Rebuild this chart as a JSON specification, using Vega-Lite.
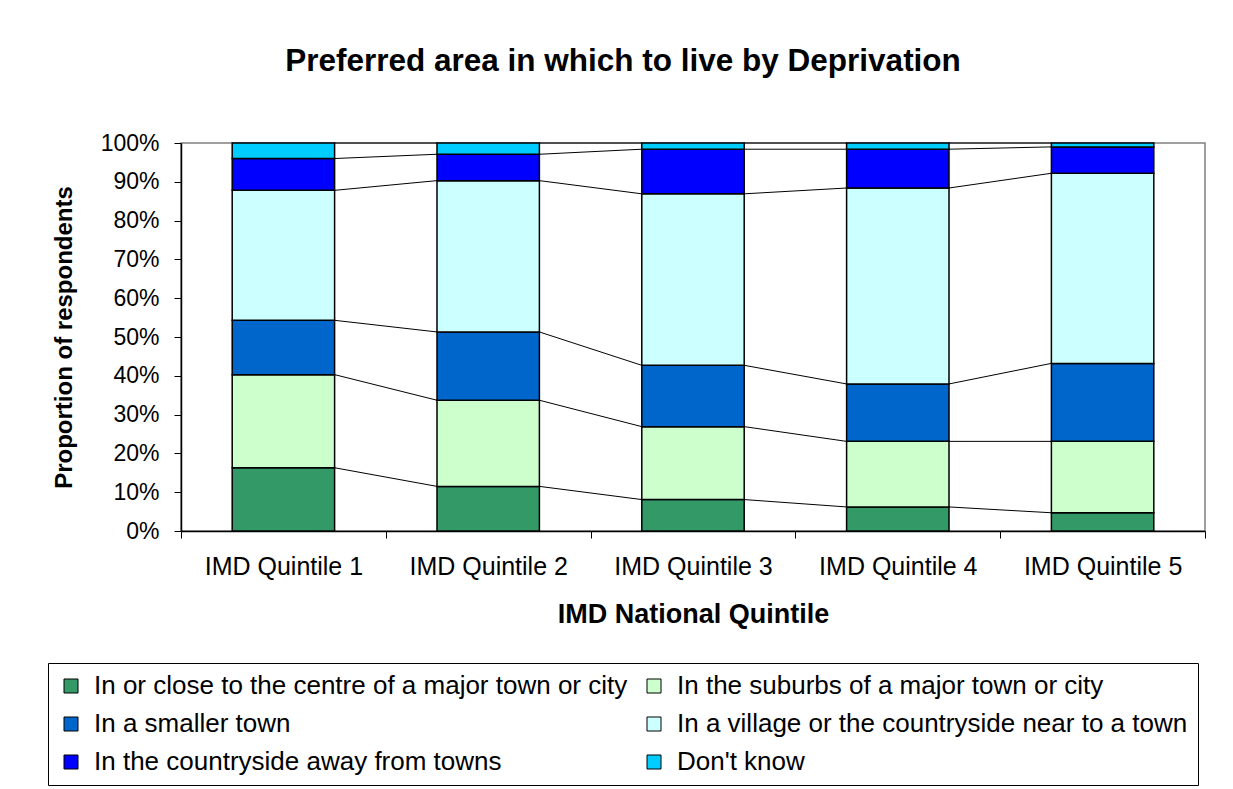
{
  "$schema": "https://vega.github.io/schema/vega-lite/v6.json",
  "width": 1024,
  "height": 388,
  "autosize": {"type": "none"},
  "padding": {"left": 181, "top": 143, "right": 28, "bottom": 258},
  "background": "white",
  "config": {
    "font": "Liberation Sans",
    "view": {"stroke": "#808080", "strokeWidth": 1.5}
  },
  "title": {
    "text": "Preferred area in which to live by Deprivation",
    "fontSize": 31.5,
    "fontWeight": "bold",
    "color": "black",
    "anchor": "middle",
    "frame": "group",
    "dx": -70,
    "offset": 30,
    "baseline": "alphabetic"
  },
  "data": {
    "values": [
      {"quintile": "IMD Quintile 1", "area": "In or close to the centre of a major town or city", "k": 1, "pct": 16.3},
      {"quintile": "IMD Quintile 1", "area": "In the suburbs of a major town or city", "k": 2, "pct": 24.0},
      {"quintile": "IMD Quintile 1", "area": "In a smaller town", "k": 3, "pct": 14.0},
      {"quintile": "IMD Quintile 1", "area": "In a village or the countryside near to a town", "k": 4, "pct": 33.5},
      {"quintile": "IMD Quintile 1", "area": "In the countryside away from towns", "k": 5, "pct": 8.2},
      {"quintile": "IMD Quintile 1", "area": "Don't know", "k": 6, "pct": 4.0},
      {"quintile": "IMD Quintile 2", "area": "In or close to the centre of a major town or city", "k": 1, "pct": 11.5},
      {"quintile": "IMD Quintile 2", "area": "In the suburbs of a major town or city", "k": 2, "pct": 22.2},
      {"quintile": "IMD Quintile 2", "area": "In a smaller town", "k": 3, "pct": 17.6},
      {"quintile": "IMD Quintile 2", "area": "In a village or the countryside near to a town", "k": 4, "pct": 39.0},
      {"quintile": "IMD Quintile 2", "area": "In the countryside away from towns", "k": 5, "pct": 6.8},
      {"quintile": "IMD Quintile 2", "area": "Don't know", "k": 6, "pct": 2.9},
      {"quintile": "IMD Quintile 3", "area": "In or close to the centre of a major town or city", "k": 1, "pct": 8.1},
      {"quintile": "IMD Quintile 3", "area": "In the suburbs of a major town or city", "k": 2, "pct": 18.8},
      {"quintile": "IMD Quintile 3", "area": "In a smaller town", "k": 3, "pct": 15.8},
      {"quintile": "IMD Quintile 3", "area": "In a village or the countryside near to a town", "k": 4, "pct": 44.2},
      {"quintile": "IMD Quintile 3", "area": "In the countryside away from towns", "k": 5, "pct": 11.5},
      {"quintile": "IMD Quintile 3", "area": "Don't know", "k": 6, "pct": 1.6},
      {"quintile": "IMD Quintile 4", "area": "In or close to the centre of a major town or city", "k": 1, "pct": 6.2},
      {"quintile": "IMD Quintile 4", "area": "In the suburbs of a major town or city", "k": 2, "pct": 16.9},
      {"quintile": "IMD Quintile 4", "area": "In a smaller town", "k": 3, "pct": 14.8},
      {"quintile": "IMD Quintile 4", "area": "In a village or the countryside near to a town", "k": 4, "pct": 50.5},
      {"quintile": "IMD Quintile 4", "area": "In the countryside away from towns", "k": 5, "pct": 10.0},
      {"quintile": "IMD Quintile 4", "area": "Don't know", "k": 6, "pct": 1.6},
      {"quintile": "IMD Quintile 5", "area": "In or close to the centre of a major town or city", "k": 1, "pct": 4.7},
      {"quintile": "IMD Quintile 5", "area": "In the suburbs of a major town or city", "k": 2, "pct": 18.4},
      {"quintile": "IMD Quintile 5", "area": "In a smaller town", "k": 3, "pct": 20.1},
      {"quintile": "IMD Quintile 5", "area": "In a village or the countryside near to a town", "k": 4, "pct": 49.0},
      {"quintile": "IMD Quintile 5", "area": "In the countryside away from towns", "k": 5, "pct": 6.8},
      {"quintile": "IMD Quintile 5", "area": "Don't know", "k": 6, "pct": 1.0}
    ]
  },
  "layer": [
    {
      "mark": {"type": "bar", "stroke": "black", "strokeWidth": 1.5, "width": {"band": 0.5}},
      "encoding": {
        "x": {
          "field": "quintile",
          "type": "nominal",
          "scale": {"paddingInner": 0, "paddingOuter": 0},
          "axis": {
            "title": "IMD National Quintile",
            "titleFontSize": 27,
            "titleFontWeight": "bold",
            "titleColor": "black",
            "titlePadding": 22,
            "labelAngle": 0,
            "labelFontSize": 25,
            "labelColor": "black",
            "labelPadding": 16,
            "tickBand": "extent",
            "tickSize": 7,
            "tickColor": "black",
            "domainColor": "black",
            "domainWidth": 1.5
          }
        },
        "y": {
          "field": "pct",
          "type": "quantitative",
          "stack": "zero",
          "scale": {"domain": [0, 100], "nice": false},
          "axis": {
            "title": "Proportion of respondents",
            "titleFontSize": 24,
            "titleFontWeight": "bold",
            "titleColor": "black",
            "titlePadding": 24,
            "values": [0, 10, 20, 30, 40, 50, 60, 70, 80, 90, 100],
            "tickCount": 11,
            "labelExpr": "datum.value + '%'",
            "labelOverlap": false,
            "labelFontSize": 23,
            "labelColor": "black",
            "labelPadding": 15,
            "tickSize": 7,
            "tickColor": "black",
            "domainColor": "black",
            "domainWidth": 1.5,
            "grid": false
          }
        },
        "color": {
          "field": "area",
          "type": "nominal",
          "scale": {
            "domain": [
              "In or close to the centre of a major town or city",
              "In a smaller town",
              "In the countryside away from towns",
              "In the suburbs of a major town or city",
              "In a village or the countryside near to a town",
              "Don't know"
            ],
            "range": ["#339966", "#0066CC", "#0000FF", "#CCFFCC", "#CCFFFF", "#00CCFF"]
          },
          "legend": {
            "orient": "none",
            "legendX": -133,
            "legendY": 520,
            "columns": 2,
            "title": null,
            "labelFontSize": 26,
            "labelColor": "black",
            "labelLimit": 1000,
            "labelOffset": 10,
            "symbolType": "square",
            "symbolSize": 196,
            "symbolStrokeColor": "black",
            "symbolStrokeWidth": 1,
            "symbolOpacity": 1,
            "strokeColor": "black",
            "fillColor": "white",
            "padding": 10,
            "rowPadding": 12,
            "columnPadding": 13
          }
        },
        "order": {"field": "k", "type": "quantitative", "sort": "ascending"}
      }
    },
    {
      "transform": [
        {"window": [{"op": "sum", "field": "pct", "as": "cum"}], "groupby": ["quintile"], "sort": [{"field": "k"}], "frame": [null, 0]},
        {"window": [{"op": "lead", "field": "cum", "as": "nextCum"}, {"op": "lead", "field": "quintile", "as": "nextQ"}], "groupby": ["area"], "sort": [{"field": "quintile"}], "frame": [null, null]},
        {"filter": "datum.nextQ != null"}
      ],
      "mark": {"type": "rule", "color": "black", "strokeWidth": 1},
      "encoding": {
        "x": {
          "field": "quintile",
          "type": "nominal",
          "bandPosition": 0.75,
          "axis": {
            "title": "IMD National Quintile",
            "titleFontSize": 27,
            "titleFontWeight": "bold",
            "titleColor": "black",
            "titlePadding": 22,
            "labelAngle": 0,
            "labelFontSize": 25,
            "labelColor": "black",
            "labelPadding": 16,
            "tickBand": "extent",
            "tickSize": 7,
            "tickColor": "black",
            "domainColor": "black",
            "domainWidth": 1.5
          }
        },
        "x2": {"field": "nextQ", "bandPosition": 0.25},
        "y": {
          "field": "cum",
          "type": "quantitative",
          "axis": {
            "title": "Proportion of respondents",
            "titleFontSize": 24,
            "titleFontWeight": "bold",
            "titleColor": "black",
            "titlePadding": 24,
            "values": [0, 10, 20, 30, 40, 50, 60, 70, 80, 90, 100],
            "tickCount": 11,
            "labelExpr": "datum.value + '%'",
            "labelOverlap": false,
            "labelFontSize": 23,
            "labelColor": "black",
            "labelPadding": 15,
            "tickSize": 7,
            "tickColor": "black",
            "domainColor": "black",
            "domainWidth": 1.5,
            "grid": false
          }
        },
        "y2": {"field": "nextCum"}
      }
    }
  ]
}
